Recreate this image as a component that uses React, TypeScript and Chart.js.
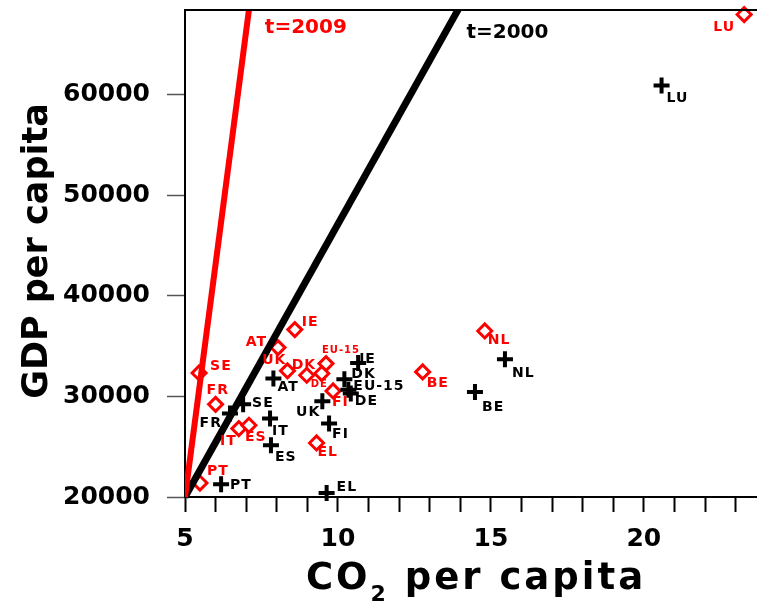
import React, { useEffect, useRef } from "react";
import { Chart, registerables } from "chart.js";

Chart.register(...registerables);

// ---------- DATA ----------
const countries = ["LU", "NL", "BE", "IE", "AT", "SE", "FR", "UK", "DK", "EU-15", "DE", "FI", "IT", "ES", "EL", "PT"];

// t = 2000 (black crosses)
const co2_2000 = [20.58, 15.46, 14.48, 10.66, 7.89, 6.9, 6.47, 9.49, 10.21, 10.34, 10.42, 9.71, 7.78, 7.81, 9.63, 6.18];
const gdp_2000 = [60900, 33700, 30440, 33320, 31770, 29210, 28290, 29510, 31700, 30660, 30280, 27300, 27790, 25140, 20400, 21260];

// t = 2009 (red diamonds)
const co2_2009 = [23.28, 14.8, 12.77, 8.59, 8.04, 5.46, 6.0, 8.35, 8.98, 9.61, 9.47, 9.84, 6.76, 7.09, 9.3, 5.49];
const gdp_2009 = [67950, 36500, 32430, 36640, 34850, 32330, 29210, 32540, 32100, 33260, 32270, 30540, 26800, 27130, 25370, 21390];

// reference rays
const line2009X = [5, 7.2];
const line2009Y = [20000, 70950];
const line2000X = [5, 14.3];
const line2000Y = [20000, 70450];
const lineNames = ["t=2009", "t=2000"];

const xMinorTicks = [5, 6, 7, 8, 9, 10, 11, 12, 13, 14, 15, 16, 17, 18, 19, 20, 21, 22, 23];
const xTickLabels = [5, 10, 15, 20];
const yTickValues = [20000, 30000, 40000, 50000, 60000];

// ---------- LAYOUT / STYLE (not data) ----------
const FONT = '"DejaVu Sans", "Liberation Sans", sans-serif';
const RED = "#ff0000";
const BLACK = "#000000";

// label placement relative to marker: [dx, dy, align, fontSize]
const labelPos2000: [number, number, string, number][] = [
  [5, 13, "left", 14], [7, 14, "left", 14], [7, 15, "left", 14], [1, -4, "left", 14],
  [4, 9, "left", 14], [9, -1, "left", 14], [-8, 10, "right", 14], [-2, 11, "right", 14],
  [7, -5, "left", 14], [5, -3, "left", 14], [4, 8, "left", 14], [3, 11, "left", 14],
  [2, 13, "left", 14], [4, 12, "left", 14], [10, -6, "left", 14], [9, 1, "left", 14],
];
const labelPos2009: [number, number, string, number][] = [
  [-9, 13, "right", 14], [3, 9, "left", 14], [4, 11, "left", 14], [7, -7, "left", 14],
  [-11, -5, "right", 14], [11, -7, "left", 14], [-9, -14, "left", 14], [-1, -10, "right", 14],
  [-15, -10, "left", 14], [-4, -13, "left", 10], [-11, 11, "left", 10], [-1, 11, "left", 14],
  [-2, 13, "right", 14], [-4, 12, "left", 14], [1, 9, "left", 14], [7, -12, "left", 14],
];
// anchor of line captions (data coords)
const captionAnchors = [
  { x: 7.61, y: 66590, color: RED },
  { x: 14.2, y: 66100, color: BLACK },
];

const overlayPlugin = {
  id: "overlay",
  afterDatasetsDraw(chart: any) {
    const ctx: CanvasRenderingContext2D = chart.ctx;
    const drawLabels = (dsIndex: number, color: string, pos: [number, number, string, number][]) => {
      const meta = chart.getDatasetMeta(dsIndex);
      meta.data.forEach((el: any, i: number) => {
        const [dx, dy, align, size] = pos[i];
        ctx.save();
        ctx.font = `bold ${size}px ${FONT}`;
        (ctx as any).letterSpacing = "1px";
        ctx.fillStyle = color;
        ctx.textAlign = align as CanvasTextAlign;
        ctx.textBaseline = "middle";
        ctx.fillText(countries[i], el.x + dx, el.y + dy);
        ctx.restore();
      });
    };
    drawLabels(2, BLACK, labelPos2000);
    drawLabels(3, RED, labelPos2009);

    const xs = chart.scales.x;
    const ys = chart.scales.y;
    captionAnchors.forEach((c, i) => {
      ctx.save();
      ctx.font = `bold 20px ${FONT}`;
      ctx.fillStyle = c.color;
      ctx.textAlign = "left";
      ctx.textBaseline = "middle";
      ctx.fillText(lineNames[i], xs.getPixelForValue(c.x), ys.getPixelForValue(c.y));
      ctx.restore();
    });
  },
  afterDraw(chart: any) {
    const ctx: CanvasRenderingContext2D = chart.ctx;
    const a = chart.chartArea;
    ctx.save();
    ctx.strokeStyle = BLACK;
    ctx.lineWidth = 2;
    ctx.beginPath();
    ctx.moveTo(a.left, a.top);
    ctx.lineTo(a.right, a.top);
    ctx.stroke();
    ctx.restore();

    // y title
    ctx.save();
    ctx.fillStyle = BLACK;
    ctx.font = `bold 35px ${FONT}`;
    ctx.textAlign = "center";
    ctx.textBaseline = "alphabetic";
    ctx.translate(47, 251);
    ctx.rotate(-Math.PI / 2);
    ctx.fillText("GDP per capita", 0, 0);
    ctx.restore();

    // x title with subscript
    ctx.save();
    ctx.fillStyle = BLACK;
    (ctx as any).letterSpacing = "3px";
    ctx.textBaseline = "alphabetic";
    ctx.textAlign = "left";
    const big = `bold 37px ${FONT}`;
    const small = `bold 22px ${FONT}`;
    ctx.font = big;
    const w1 = ctx.measureText("CO").width;
    const w3 = ctx.measureText(" per capita").width;
    ctx.font = small;
    const w2 = ctx.measureText("2").width;
    const total = w1 + w2 + w3;
    let x = 476 - total / 2;
    const base = 589;
    ctx.font = big;
    ctx.fillText("CO", x, base);
    x += w1;
    ctx.font = small;
    ctx.fillText("2", x, base + 12);
    x += w2;
    ctx.font = big;
    ctx.fillText(" per capita", x, base);
    ctx.restore();
  },
};

export default function App() {
  const ref = useRef<HTMLCanvasElement | null>(null);

  useEffect(() => {
    document.body.style.margin = "0";
    const canvas = ref.current;
    if (!canvas) return;

    const pts = (xs: number[], ys: number[]) => xs.map((x, i) => ({ x, y: ys[i] }));

    const chart = new Chart(canvas, {
      type: "scatter",
      data: {
        datasets: [
          {
            label: lineNames[0],
            data: pts(line2009X, line2009Y),
            showLine: true,
            borderColor: RED,
            borderWidth: 6,
            pointRadius: 0,
            pointHoverRadius: 0,
            clip: { left: 0, top: 0, right: 0, bottom: 4 } as any,
            order: 0,
          },
          {
            label: lineNames[1],
            data: pts(line2000X, line2000Y),
            showLine: true,
            borderColor: BLACK,
            borderWidth: 7,
            pointRadius: 0,
            pointHoverRadius: 0,
            clip: { left: 0, top: 0, right: 0, bottom: 4 } as any,
            order: 0,
          },
          {
            label: "2000",
            data: pts(co2_2000, gdp_2000),
            pointStyle: "cross",
            pointRadius: 8,
            pointHoverRadius: 8,
            pointBorderWidth: 4,
            borderColor: BLACK,
            backgroundColor: BLACK,
            showLine: false,
            clip: false as any,
            order: 1,
          },
          {
            label: "2009",
            data: pts(co2_2009, gdp_2009),
            pointStyle: "rectRot",
            pointRadius: 7,
            pointHoverRadius: 7,
            pointBorderWidth: 3,
            borderColor: RED,
            backgroundColor: "#ffffff",
            showLine: false,
            clip: false as any,
            order: 1,
          },
        ],
      },
      options: {
        animation: false,
        responsive: false,
        devicePixelRatio: 1,
        events: [],
        layout: { autoPadding: false, padding: { top: 10, left: 0, right: 0, bottom: 0 } },
        plugins: {
          legend: { display: false },
          tooltip: { enabled: false },
          title: { display: false },
        },
        scales: {
          x: {
            type: "linear",
            position: "bottom",
            min: 5,
            max: 23.7,
            border: { display: true, color: BLACK, width: 2 },
            grid: {
              display: true,
              drawOnChartArea: false,
              drawTicks: true,
              tickLength: 15,
              tickColor: BLACK,
              tickWidth: 2,
            },
            afterBuildTicks: (s: any) => {
              s.ticks = xMinorTicks.map((v) => ({ value: v }));
            },
            ticks: {
              autoSkip: false,
              maxRotation: 0,
              minRotation: 0,
              padding: 12,
              color: BLACK,
              font: { family: FONT, size: 25, weight: "bold" },
              callback: (v: any) => (xTickLabels.includes(Number(v)) ? String(v) : ""),
            },
            afterFit: (s: any) => {
              s.height = 108;
              s.paddingLeft = 0;
              s.paddingRight = 0;
            },
          },
          y: {
            type: "linear",
            position: "left",
            min: 20000,
            max: 68400,
            border: { display: true, color: BLACK, width: 2 },
            grid: {
              display: true,
              drawOnChartArea: false,
              drawTicks: true,
              tickLength: 18,
              tickColor: "#555555",
              tickWidth: 1.5,
            },
            afterBuildTicks: (s: any) => {
              s.ticks = yTickValues.map((v) => ({ value: v }));
            },
            ticks: {
              autoSkip: false,
              padding: 17,
              color: BLACK,
              font: { family: FONT, size: 25, weight: "bold" },
              callback: (v: any) => String(v),
            },
            afterFit: (s: any) => {
              s.width = 185;
              s.paddingTop = 0;
              s.paddingBottom = 0;
            },
          },
        },
      } as any,
      plugins: [overlayPlugin],
    });

    return () => chart.destroy();
  }, []);

  return <canvas ref={ref} width={757} height={605} style={{ display: "block" }} />;
}
